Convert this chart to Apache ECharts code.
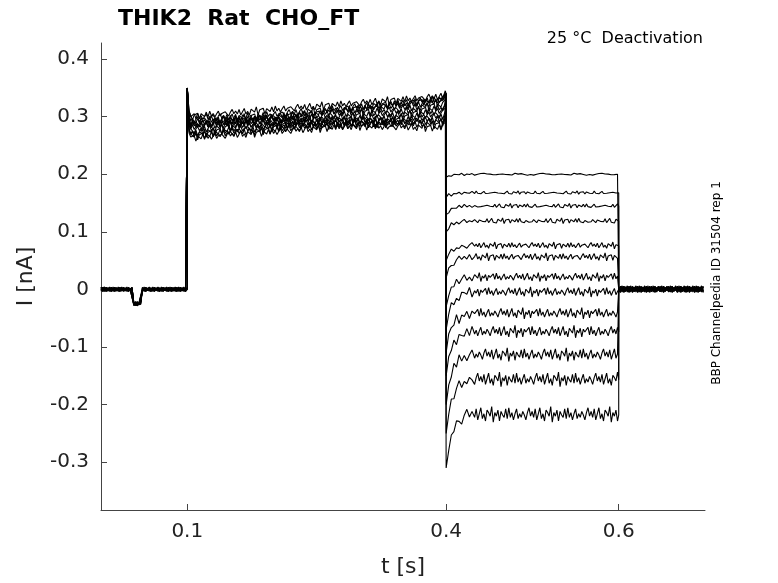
<!DOCTYPE html>
<html><head><meta charset="utf-8">
<script src="https://cdn.jsdelivr.net/npm/echarts@6/dist/echarts.min.js"></script>
<style>html,body{margin:0;padding:0;background:#fff}#c{width:778px;height:583px}</style>
</head><body><div id="c"></div>
<script>
// steady deactivation levels per trace (nA)
const tailLevels = [0.200, 0.168, 0.145, 0.119, 0.076, 0.056, 0.021, -0.005, -0.042, -0.074, -0.114, -0.157, -0.218];
// initial value right after step to deactivation voltage
const tailStart = [0.195, 0.160, 0.130, 0.100, 0.050, 0.020, -0.030, -0.070, -0.110, -0.150, -0.200, -0.250, -0.310];
// prepulse levels at start/end of the 0.1–0.4 s step
const preStart = [0.300, 0.290, 0.285, 0.280, 0.275, 0.270, 0.268, 0.265, 0.262, 0.300, 0.295, 0.288, 0.282];
const preEnd   = [0.335, 0.330, 0.325, 0.320, 0.315, 0.310, 0.305, 0.300, 0.295, 0.290, 0.285, 0.280, 0.330];
// relaxation fraction over the first samples after 0.4 s
const relax = [1, 0.6, 0.4, 0.27, 0.18, 0.12, 0.08, 0.05, 0.03, 0.015, 0];
// hand-read noise wiggle (nA), scaled per trace
const wiggle = [0.003,-0.002,0.005,-0.004,0.001,0.006,-0.003,0.001,-0.005,0.004,0.002,-0.001,0.007,-0.006,0.002,-0.001,0.004,-0.005,0.003,0.000,-0.002,0.005,-0.003,0.006,-0.002,0.002,-0.004,0.001,0.005,-0.003,0.001,-0.002,0.003,0.000,-0.004,0.002,0.006,-0.001];
const xTicks = [0.1, 0.4, 0.6];
const yTicks = [-0.3,-0.2,-0.1,0,0.1,0.2,0.3,0.4];

function trace(i){
  const pts=[]; let k=i*5;
  const w=()=>wiggle[(k++)%wiggle.length];
  for(let t=0;t<0.1;t+=0.002){
    let v=(t>0.038&&t<0.048)?-0.025:0;
    pts.push([t,v+w()*0.6]);
  }
  pts.push([0.1,0]);pts.push([0.1,0.35]);pts.push([0.102,preStart[i]+0.01]);
  for(let t=0.104;t<0.398;t+=0.002){
    const f=(t-0.1)/0.3;
    pts.push([t,preStart[i]+(preEnd[i]-preStart[i])*f+w()*1.1]);
  }
  pts.push([0.399,preEnd[i]+0.01]);pts.push([0.4,0.34]);
  for(let j=0;j<relax.length;j++){
    const t=0.4+j*0.003;
    pts.push([t,tailLevels[i]+(tailStart[i]-tailLevels[i])*relax[j]+(j?w()*(0.3+i*0.15):0)]);
  }
  for(let t=0.4+relax.length*0.003;t<0.6;t+=0.0018){
    pts.push([t,tailLevels[i]+w()*(0.3+i*0.15)]);
  }
  pts.push([0.6,tailLevels[i]]);pts.push([0.6,0]);
  for(let t=0.602;t<=0.7;t+=0.002){pts.push([t,w()*0.9]);}
  return pts;
}
const series=tailLevels.map((_,i)=>({type:'line',data:trace(i),showSymbol:false,symbol:'none',
  lineStyle:{color:'#000',width:1.1},animation:false,silent:true}));

const chart=echarts.init(document.getElementById('c'));
chart.setOption({
  animation:false,
  grid:{left:101,right:73,top:43,bottom:71},
  title:[{text:'THIK2  Rat  CHO_FT',left:113,top:3,textStyle:{fontFamily:'DejaVu Sans',fontWeight:'bold',fontSize:22,color:'#000'}}],
  graphic:[
    {type:'text',right:75,top:31,style:{text:'25 °C  Deactivation',font:'16px DejaVu Sans',fill:'#000'}},
    {type:'text',x:717,y:283,rotation:Math.PI/2,style:{text:'BBP Channelpedia ID 31504 rep 1',font:'12px DejaVu Sans',fill:'#000',align:'center',verticalAlign:'middle'}}
  ],
  xAxis:{type:'value',min:0,max:0.7,name:'t [s]',nameLocation:'middle',nameGap:46,
    nameTextStyle:{fontFamily:'DejaVu Sans',fontSize:22,color:'#222'},
    axisLine:{show:true,onZero:false,lineStyle:{color:'#444'}},axisTick:{show:true,inside:true,length:6,lineStyle:{color:'#444'},customValues:xTicks},
    axisLabel:{fontFamily:'DejaVu Sans',fontSize:20,color:'#222',margin:12,customValues:xTicks,formatter:v=>String(v)},
    splitLine:{show:false}},
  yAxis:{type:'value',min:-0.383,max:0.428,name:'I [nA]',nameLocation:'middle',nameGap:64,
    nameTextStyle:{fontFamily:'DejaVu Sans',fontSize:22,color:'#222'},
    axisLine:{show:true,onZero:false,lineStyle:{color:'#444'}},
    axisTick:{show:true,inside:true,length:6,lineStyle:{color:'#444'},customValues:yTicks},
    axisLabel:{fontFamily:'DejaVu Sans',fontSize:20,color:'#222',margin:12,customValues:yTicks,
      formatter:v=>{const r=Math.round(v*10)/10;return r===0?'0':String(r);}},
    splitLine:{show:false}},
  series
});
</script></body></html>
